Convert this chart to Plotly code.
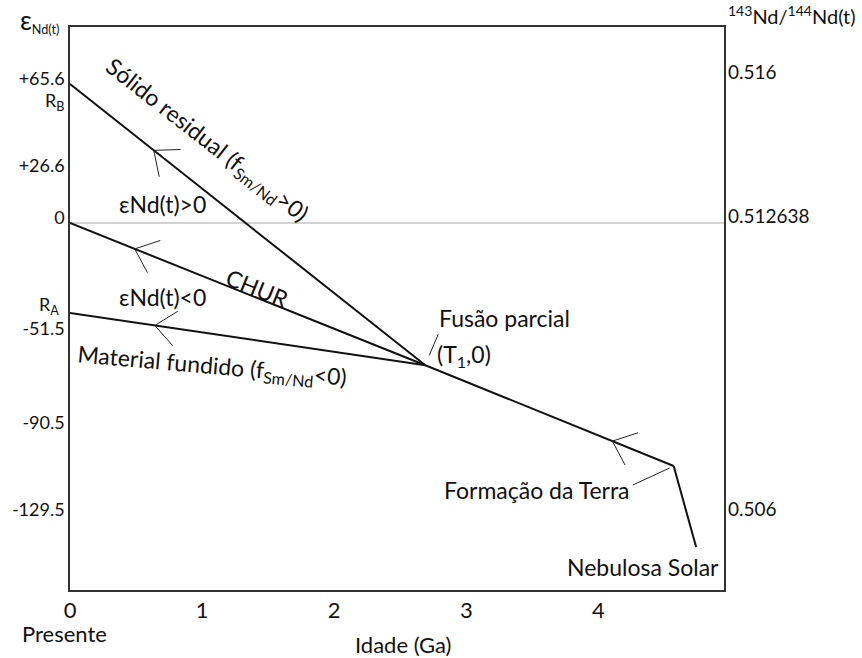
import numpy as np
import plotly.graph_objects as go

# ---------------- data (schematic diagram values) ----------------
# ages in Ga, epsilon in schematic diagram units (0 = CHUR)
age_solid = [0.0, 2.69]
eps_solid = [63.3, -64.8]
age_chur = [0.0, 2.69, 4.57]
eps_chur = [0.0, -64.8, -110.7]
age_melt = [0.0, 2.69]
eps_melt = [-41.0, -64.8]
age_neb = [4.57, 4.74]
eps_neb = [-110.7, -147.6]

# ages where the direction chevrons sit
arrow_solid_age = 0.634
arrow_chur_age = 0.49
arrow_melt_age = 0.642
arrow_earth_age = 4.106

x_tick_vals = [0, 1, 2, 3, 4]
x_tick_text = ["0", "1", "2", "3", "4"]
eps_tick_pos = [65.6, 26.0, 2.3, -48.3, -91.1, -130.8]
eps_tick_text = ["+65.6", "+26.6", "0", "-51.5", "-90.5", "-129.5"]
ratio_tick_pos = [68.8, 3.2, -130.3]
ratio_tick_text = ["0.516", "0.512638", "0.506"]

# ---------------- geometry helpers ----------------
W, H = 862, 658
L, R, T, B = 68, 138, 27, 68
X0, X1, Y0, Y1 = L, W - R, T, H - B
xr = [0.0, 4.951]
yr = [-167.2, 89.3]


def to_px(x, y):
    px = X0 + (x - xr[0]) / (xr[1] - xr[0]) * (X1 - X0)
    py = Y1 - (y - yr[0]) / (yr[1] - yr[0]) * (Y1 - Y0)
    return px, py


def to_data(px, py):
    x = xr[0] + (px - X0) / (X1 - X0) * (xr[1] - xr[0])
    y = yr[0] + (Y1 - py) / (Y1 - Y0) * (yr[1] - yr[0])
    return x, y


def pp(px, py):
    return (px - X0) / (X1 - X0), (Y1 - py) / (Y1 - Y0)


def chevron(ages, eps, a, arm=27, half=40):
    y = float(np.interp(a, ages, eps))
    vx, vy = to_px(a, y)
    bx, by = to_px(a + 0.05, float(np.interp(a + 0.05, ages, eps)))
    ang = np.arctan2(by - vy, bx - vx)
    xs, ys = [], []
    for s in (half, -half):
        t = ang + np.radians(s)
        ex, ey = vx + arm * np.cos(t), vy + arm * np.sin(t)
        dx, dy = to_data(ex, ey)
        xs.append(dx)
        ys.append(dy)
    return [xs[0], a, xs[1]], [ys[0], y, ys[1]]


def leader(ages, eps, a, off0, off1):
    y = float(np.interp(a, ages, eps))
    vx, vy = to_px(a, y)
    p0 = to_data(vx + off0[0], vy + off0[1])
    p1 = to_data(vx + off1[0], vy + off1[1])
    return [p0[0], p1[0]], [p0[1], p1[1]]


FONT = "Lato, 'Open Sans', sans-serif"
fig = go.Figure()

# zero (CHUR present-day) reference line
fig.add_trace(go.Scatter(x=xr, y=[0, 0], mode="lines",
                         line=dict(color="#a8a8a8", width=1.2), hoverinfo="skip"))

main = dict(color="#111111", width=2)
for ax_, ay_ in [(age_solid, eps_solid), (age_chur, eps_chur),
                 (age_melt, eps_melt), (age_neb, eps_neb)]:
    fig.add_trace(go.Scatter(x=ax_, y=ay_, mode="lines", line=main, hoverinfo="skip"))

thin = dict(color="#222222", width=1)
for ages, eps, a in [(age_solid, eps_solid, arrow_solid_age),
                     (age_chur, eps_chur, arrow_chur_age),
                     (age_melt, eps_melt, arrow_melt_age),
                     (age_chur, eps_chur, arrow_earth_age)]:
    cx, cy = chevron(ages, eps, a)
    fig.add_trace(go.Scatter(x=cx, y=cy, mode="lines", line=thin, hoverinfo="skip"))

# leader lines for labels
lx, ly = leader(age_chur, eps_chur, age_solid[-1], (4, -10), (13, -31))
fig.add_trace(go.Scatter(x=lx, y=ly, mode="lines", line=thin, hoverinfo="skip"))
lx, ly = leader(age_chur, eps_chur, age_chur[-1], (-4, 2), (-41, 19))
fig.add_trace(go.Scatter(x=lx, y=ly, mode="lines", line=thin, hoverinfo="skip"))

# invisible trace for right axis
fig.add_trace(go.Scatter(x=age_chur, y=eps_chur, yaxis="y2", mode="lines",
                         line=dict(width=0), opacity=0, hoverinfo="skip"))

ann = []


def add_text(text, px, py, size=23, angle=0, xanchor="center", yanchor="middle"):
    xp, yp = pp(px, py)
    ann.append(dict(text=text, x=xp, y=yp, xref="paper", yref="paper",
                    showarrow=False, textangle=angle, xanchor=xanchor,
                    yanchor=yanchor, font=dict(size=size, color="#111111", family=FONT)))


add_text("Sólido residual (f<sub>Sm/Nd</sub>&gt;0)", 205, 141, angle=38)
add_text("εNd(t)&gt;0", 161, 204)
add_text("CHUR", 256, 288, angle=22)
add_text("εNd(t)&lt;0", 161, 297)
add_text("Material fundido (f<sub>Sm/Nd</sub>&lt;0)", 210, 367, angle=5)
add_text("Fusão parcial", 504, 318)
add_text("(T<sub>1</sub>,0)", 463, 355)
add_text("Formação da Terra", 632, 490, xanchor="right")
add_text("Nebulosa Solar", 643, 567)
add_text("Presente", 62, 633, size=22)
add_text("Idade (Ga)", 403, 644, size=22)
add_text("R<sub>B</sub>", 64, 101, size=18, xanchor="right")
add_text("R<sub>A</sub>", 59, 305, size=18, xanchor="right")
add_text('<span style="font-size:26px">ε</span><sub>Nd(t)</sub>', 16, 20, size=18, xanchor="left")
add_text("<sup>143</sup>Nd/<sup>144</sup>Nd(t)", 726, 15, size=20, xanchor="left")

fig.update_layout(
    width=W, height=H,
    margin=dict(l=L, r=R, t=T, b=B),
    paper_bgcolor="white", plot_bgcolor="white",
    showlegend=False,
    font=dict(family=FONT, color="#111111"),
    xaxis=dict(range=xr, showgrid=False, zeroline=False, showline=True,
               linecolor="#333333", linewidth=1.5, mirror=True, ticks="",
               tickvals=x_tick_vals, ticktext=x_tick_text,
               tickfont=dict(size=22, family=FONT, color="#111111")),
    yaxis=dict(range=yr, showgrid=False, zeroline=False, showline=True,
               linecolor="#333333", linewidth=1.5, mirror=True, ticks="",
               tickvals=eps_tick_pos, ticktext=eps_tick_text,
               tickfont=dict(size=18, family=FONT, color="#111111")),
    yaxis2=dict(range=yr, overlaying="y", side="right", showgrid=False,
                zeroline=False, showline=False, ticks="",
                tickvals=ratio_tick_pos, ticktext=ratio_tick_text,
                ticklabelstandoff=3,
                tickfont=dict(size=19, family=FONT, color="#111111")),
    annotations=ann,
)

fig.write_html("out.html")
